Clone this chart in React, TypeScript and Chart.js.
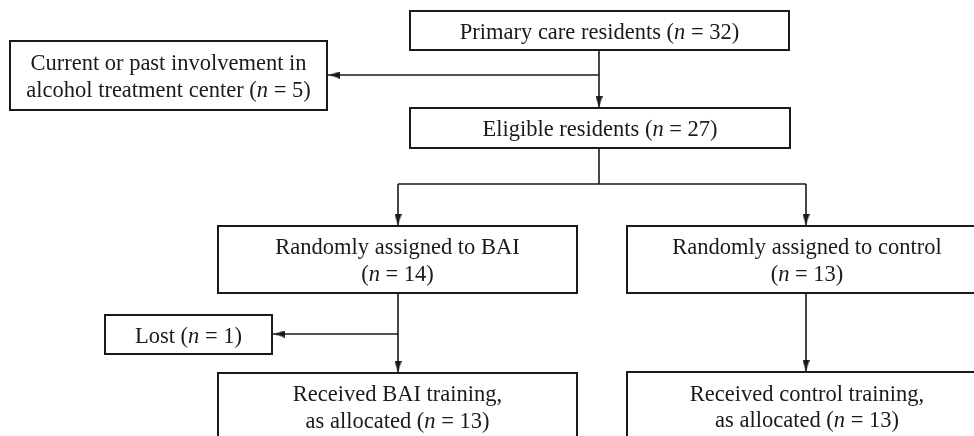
import React, { useEffect, useRef } from "react";
import { Chart, registerables } from "chart.js";

Chart.register(...registerables);

// ---- Flow chart data ----
const nodeLabels: string[][] = [
  ["Primary care residents (*n* = 32)"],
  ["Current or past involvement in", "alcohol treatment center (*n* = 5)"],
  ["Eligible residents (*n* = 27)"],
  ["Randomly assigned to BAI", "(*n* = 14)"],
  ["Randomly assigned to control", "(*n* = 13)"],
  ["Lost (*n* = 1)"],
  ["Received BAI training,", "as allocated (*n* = 13)"],
  ["Received control training,", "as allocated (*n* = 13)"],
];
const nodeLeft = [410, 10, 410, 218, 627, 105, 218, 627];
const nodeRight = [789, 327, 790, 577, 987, 272, 577, 987];
const nodeTop = [11, 41, 108, 226, 226, 315, 373, 372];
const nodeBottom = [50, 110, 148, 293, 293, 354, 440, 440];

// connectors: polyline points [x, y]; arrow at the last point where flagged
const linkPaths: number[][][] = [
  [[599, 50], [599, 108]],
  [[599, 75], [328, 75]],
  [[599, 148], [599, 184]],
  [[398, 184], [806, 184]],
  [[398, 184], [398, 226]],
  [[806, 184], [806, 226]],
  [[398, 293], [398, 373]],
  [[398, 334], [273, 334]],
  [[806, 293], [806, 372]],
];
const linkArrow = [true, true, false, false, true, true, true, true, true];

const W = 974;
const H = 436;
const INK = "#1a1a1a";
const FONT_SIZE = 22.5;
const LINE_H = 26.5;
const FAMILY = '"Liberation Serif", "Times New Roman", serif';
const ARROW_W = 7;
const ARROW_L = 11;

function makeArrowHead(): HTMLCanvasElement {
  const c = document.createElement("canvas");
  c.width = ARROW_W;
  c.height = ARROW_L;
  const g = c.getContext("2d")!;
  g.fillStyle = INK;
  g.beginPath();
  g.moveTo(ARROW_W / 2, 0);
  g.lineTo(ARROW_W, ARROW_L);
  g.lineTo(0, ARROW_L);
  g.closePath();
  g.fill();
  return c;
}

export default function App() {
  const ref = useRef<HTMLCanvasElement | null>(null);

  useEffect(() => {
    const canvas = ref.current;
    if (!canvas) return;

    const datasets: any[] = [];
    nodeLabels.forEach((_, i) => {
      const l = nodeLeft[i], r = nodeRight[i], t = nodeTop[i], b = nodeBottom[i];
      datasets.push({
        type: "line",
        data: [
          { x: l, y: t }, { x: r, y: t }, { x: r, y: b }, { x: l, y: b }, { x: l, y: t },
        ],
        borderColor: INK,
        borderWidth: 2,
        pointRadius: 0,
        fill: false,
        tension: 0,
        borderJoinStyle: "miter",
        borderCapStyle: "square",
      });
    });
    const arrowPts: any[] = [];
    const arrowRot: number[] = [];
    linkPaths.forEach((p, i) => {
      datasets.push({
        type: "line",
        data: p.map(([x, y]) => ({ x, y })),
        borderColor: INK,
        borderWidth: 1.6,
        pointRadius: 0,
        fill: false,
        tension: 0,
      });
      if (linkArrow[i]) {
        const [x0, y0] = p[p.length - 2];
        const [x1, y1] = p[p.length - 1];
        const dx = Math.sign(x1 - x0), dy = Math.sign(y1 - y0);
        arrowPts.push({ x: x1 - dx * (ARROW_L / 2 + 1), y: y1 - dy * (ARROW_L / 2 + 1) });
        let rot = 0;
        if (dy > 0) rot = 180;
        else if (dy < 0) rot = 0;
        else if (dx < 0) rot = 270;
        else rot = 90;
        arrowRot.push(rot);
      }
    });
    datasets.push({
      type: "scatter",
      data: arrowPts,
      pointStyle: makeArrowHead(),
      pointRadius: 5,
      pointRotation: arrowRot,
      backgroundColor: INK,
      borderColor: INK,
      borderWidth: 0,
    });

    const textPlugin = {
      id: "flowText",
      afterDatasetsDraw(chart: any) {
        const { ctx } = chart;
        const xs = chart.scales.x, ys = chart.scales.y;
        ctx.save();
        ctx.fillStyle = INK;
        ctx.textBaseline = "alphabetic";
        ctx.textAlign = "left";
        const fontOf = (it: boolean) => `${it ? "italic " : ""}${FONT_SIZE}px ${FAMILY}`;
        nodeLabels.forEach((lines, i) => {
          const cx = (xs.getPixelForValue(nodeLeft[i]) + xs.getPixelForValue(nodeRight[i])) / 2;
          const cy = (ys.getPixelForValue(nodeTop[i]) + ys.getPixelForValue(nodeBottom[i])) / 2;
          const first = cy - ((lines.length - 1) * LINE_H) / 2 + 8;
          lines.forEach((line, j) => {
            const segs = line.split("*").map((s, k) => ({ s, it: k % 2 === 1 }));
            let total = 0;
            segs.forEach((g) => { ctx.font = fontOf(g.it); total += ctx.measureText(g.s).width; });
            let x = cx - total / 2;
            const yb = first + j * LINE_H;
            segs.forEach((g) => {
              ctx.font = fontOf(g.it);
              ctx.fillText(g.s, x, yb);
              x += ctx.measureText(g.s).width;
            });
          });
        });
        ctx.restore();
      },
    };

    const chart = new Chart(canvas, {
      type: "line",
      data: { datasets },
      options: {
        animation: false,
        responsive: false,
        maintainAspectRatio: false,
        layout: { padding: 0, autoPadding: false } as any,
        plugins: { legend: { display: false }, tooltip: { enabled: false } },
        scales: {
          x: { type: "linear", min: 0, max: W, display: false },
          y: { type: "linear", min: 0, max: H, reverse: true, display: false },
        },
      },
      plugins: [textPlugin],
    });
    return () => chart.destroy();
  }, []);

  return (
    <div style={{ position: "absolute", left: 0, top: 0, width: W, height: H, background: "#fff" }}>
      <canvas ref={ref} width={W} height={H} style={{ width: W, height: H, display: "block" }} />
    </div>
  );
}
